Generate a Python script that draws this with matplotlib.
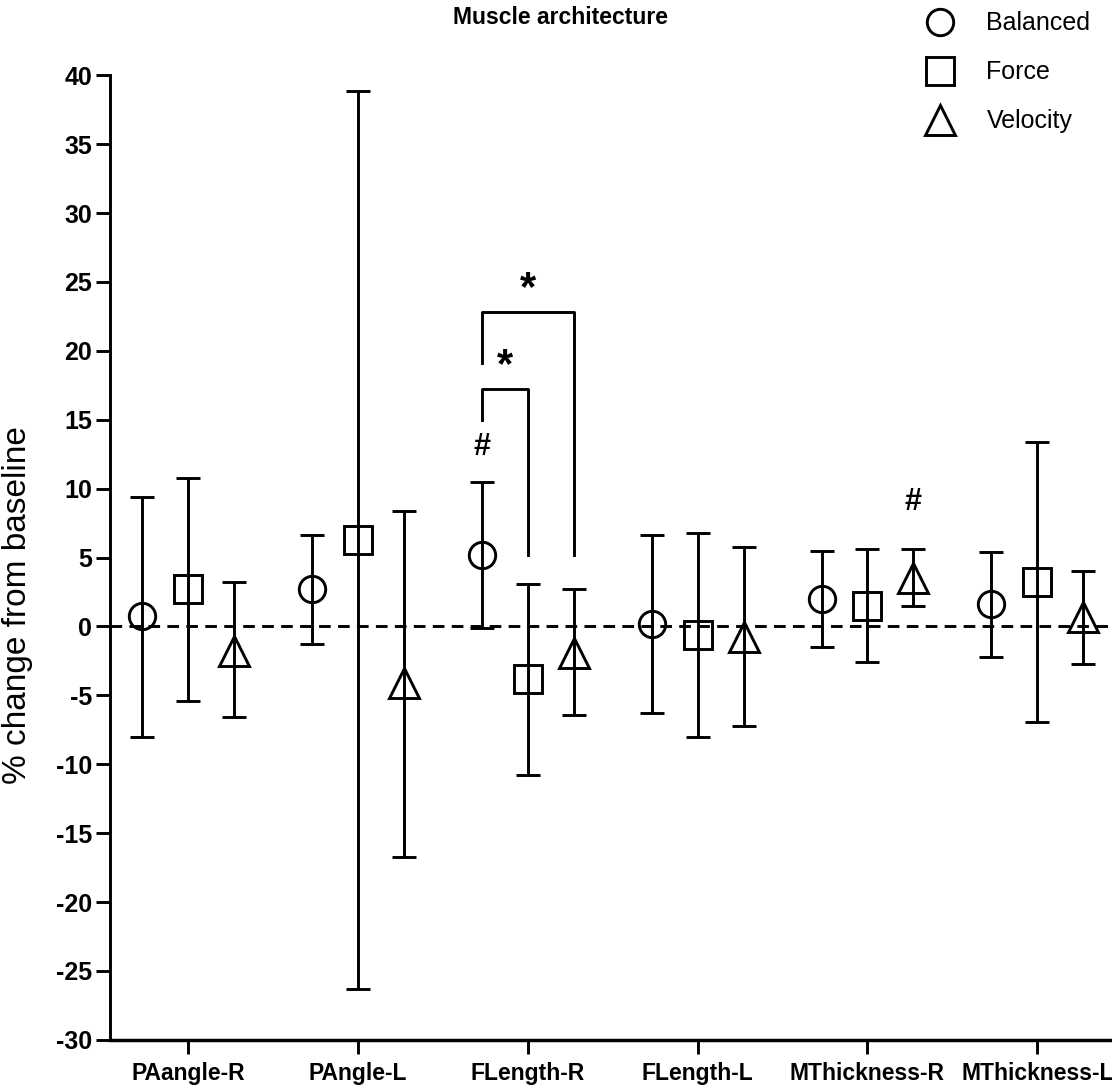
import matplotlib
matplotlib.use("Agg")
import matplotlib.pyplot as plt
from matplotlib.lines import Line2D
import numpy as np

plt.rcParams['font.family'] = ['Liberation Sans', 'DejaVu Sans']
plt.rcParams['axes.unicode_minus'] = False

categories = ["PAangle-R", "PAngle-L", "FLength-R", "FLength-L", "MThickness-R", "MThickness-L"]
groups = ["Balanced", "Force", "Velocity"]

# mean % change and error bar limits
balanced_mean = [0.75, 2.7, 5.15, 0.2, 2.0, 1.6]
balanced_hi = [9.4, 6.65, 10.45, 6.65, 5.5, 5.4]
balanced_lo = [-8.0, -1.25, -0.1, -6.3, -1.5, -2.25]

force_mean = [2.7, 6.3, -3.85, -0.6, 1.5, 3.2]
force_hi = [10.75, 38.85, 3.1, 6.75, 5.65, 13.35]
force_lo = [-5.4, -26.3, -10.8, -8.0, -2.6, -6.95]

velocity_mean = [-1.75, -4.1, -1.95, -0.8, 3.5, 0.65]
velocity_hi = [3.2, 8.4, 2.75, 5.8, 5.6, 4.05]
velocity_lo = [-6.6, -16.7, -6.45, -7.2, 1.45, -2.7]

series = [
    (balanced_mean, balanced_hi, balanced_lo, 'o', 19),
    (force_mean, force_hi, force_lo, 's', 20),
    (velocity_mean, velocity_hi, velocity_lo, '^', 21),
]

fig = plt.figure(figsize=(11.12, 10.9), dpi=100)
ax = fig.add_axes([0.099, 0.046, 0.901, 0.885])

x = np.arange(len(categories))
offsets = [-0.27, 0.0, 0.27]
lw = 2.1

ax.axhline(0, color='black', lw=lw, ls=(0, (4, 2.5)), zorder=1)

for (mean, hi, lo, mk, ms), off in zip(series, offsets):
    mean = np.array(mean)
    yerr = [mean - np.array(lo), np.array(hi) - mean]
    ax.errorbar(x + off, mean, yerr=yerr, fmt=mk, ms=ms, mfc='none', mec='black',
                mew=lw, ecolor='black', elinewidth=lw, capsize=8.6, capthick=lw,
                zorder=3)

# significance marks
ax.text(2 - 0.27, 13.0, "#", ha='center', va='center', fontsize=22, fontweight='bold')
ax.text(4 + 0.27, 9.0, "#", ha='center', va='center', fontsize=22, fontweight='bold')

ax.plot([2 - 0.27, 2 - 0.27, 2, 2], [15.0, 17.2, 17.2, 5.15], color='black', lw=lw)
ax.plot([2 - 0.27, 2 - 0.27, 2 + 0.27, 2 + 0.27], [19.1, 22.8, 22.8, 5.15], color='black', lw=lw)
ax.text(2 - 0.135, 18.9, "*", ha='center', va='center', fontsize=30, fontweight='bold')
ax.text(2, 24.5, "*", ha='center', va='center', fontsize=30, fontweight='bold')

ax.set_xlim(-0.46, 5.44)
ax.set_ylim(-30, 40)
ax.set_yticks(np.arange(-30, 41, 5))
ax.set_xticks(x)
ax.set_xticklabels(categories, fontsize=16.5, fontweight='bold')
for lab in ax.get_yticklabels():
    lab.set_fontsize(18)
    lab.set_fontweight('bold')
ax.tick_params(axis='both', width=lw, length=10, direction='out')
ax.tick_params(axis='x', pad=6)
ax.tick_params(axis='y', pad=3)

for s in ['top', 'right']:
    ax.spines[s].set_visible(False)
ax.spines['left'].set_linewidth(lw)
ax.spines['bottom'].set_linewidth(2.5)

ax.set_ylabel("% change from baseline", fontsize=24)
ax.yaxis.set_label_coords(-0.077, 0.451)

fig.text(0.504, 1 - 18 / 1090, "Muscle architecture", ha='center', va='center',
         fontsize=16.5, fontweight='bold')

handles = [Line2D([], [], ls='none', marker=mk, ms=ms, mfc='none', mec='black', mew=lw)
           for (_, _, _, mk, ms) in series]
fig.legend(handles, groups, loc='upper left', bbox_to_anchor=(914 / 1112, 1.0),
           frameon=False, fontsize=18, handlelength=1.2, handletextpad=1.25,
           labelspacing=1.0, borderaxespad=0.05)

fig.savefig("out.png", dpi=100)
